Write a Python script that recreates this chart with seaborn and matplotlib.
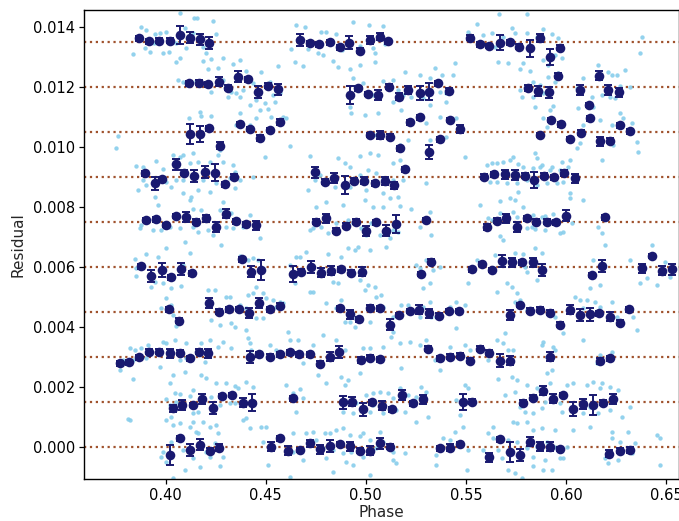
import matplotlib
matplotlib.use("Agg")
import matplotlib.pyplot as plt
import seaborn as sns
import pandas as pd
from matplotlib.ticker import FormatStrFormatter, MultipleLocator

# ---------------------------------------------------------------------------
# Binned residuals, one list per epoch (stacked with a fixed vertical offset).
# phase in orbital phase, residual and error in units of 1e-4
# ---------------------------------------------------------------------------
offset_step = 0.0015

bin_phase = [
    [0.4020, 0.4070, 0.4120, 0.4170, 0.4220, 0.4267, 0.4525, 0.4570, 0.4612, 0.4670, 0.4720, 0.4770, 0.4820,
     0.4870, 0.4920, 0.4970, 0.5023, 0.5073, 0.5120, 0.5370, 0.5423, 0.5470, 0.5617, 0.5670, 0.5720, 0.5770,
     0.5820, 0.5870, 0.5920, 0.5970, 0.6217, 0.6270, 0.6320],
    [0.4035, 0.4083, 0.4137, 0.4183, 0.4237, 0.4283, 0.4333, 0.4387, 0.4432, 0.4637, 0.4887, 0.4933, 0.4987,
     0.5033, 0.5083, 0.5133, 0.5183, 0.5237, 0.5287, 0.5487, 0.5532, 0.5786, 0.5836, 0.5886, 0.5936, 0.5986,
     0.6033, 0.6083, 0.6133, 0.6187, 0.6237],
    [0.3770, 0.3817, 0.3867, 0.3917, 0.3967, 0.4020, 0.4070, 0.4120, 0.4167, 0.4212, 0.4420, 0.4467, 0.4520,
     0.4570, 0.4620, 0.4667, 0.4720, 0.4770, 0.4820, 0.4867, 0.4978, 0.5020, 0.5070, 0.5312, 0.5370, 0.5420,
     0.5470, 0.5520, 0.5570, 0.5617, 0.5670, 0.5720, 0.5920, 0.6170, 0.6220],
    [0.4017, 0.4067, 0.4217, 0.4267, 0.4317, 0.4367, 0.4417, 0.4467, 0.4520, 0.4570, 0.4870, 0.4920, 0.4967,
     0.5020, 0.5073, 0.5120, 0.5167, 0.5220, 0.5267, 0.5317, 0.5367, 0.5417, 0.5467, 0.5720, 0.5770, 0.5820,
     0.5870, 0.5920, 0.5970, 0.6020, 0.6070, 0.6120, 0.6165, 0.6220, 0.6270, 0.6315],
    [0.3875, 0.3928, 0.3982, 0.4028, 0.4078, 0.4132, 0.4383, 0.4428, 0.4478, 0.4637, 0.4678, 0.4728, 0.4778,
     0.4828, 0.4878, 0.4928, 0.4982, 0.5278, 0.5325, 0.5528, 0.5578, 0.5628, 0.5678, 0.5728, 0.5778, 0.5833,
     0.5878, 0.6128, 0.6178, 0.6378, 0.6428, 0.6478, 0.6528],
    [0.3903, 0.3950, 0.4000, 0.4053, 0.4100, 0.4150, 0.4200, 0.4253, 0.4300, 0.4350, 0.4403, 0.4450, 0.4753,
     0.4800, 0.4850, 0.4903, 0.4953, 0.5003, 0.5053, 0.5103, 0.5153, 0.5303, 0.5603, 0.5653, 0.5700, 0.5753,
     0.5803, 0.5850, 0.5903, 0.5950, 0.6000, 0.6195],
    [0.3895, 0.3945, 0.3982, 0.4053, 0.4092, 0.4140, 0.4195, 0.4247, 0.4295, 0.4340, 0.4745, 0.4795, 0.4842,
     0.4896, 0.4942, 0.4991, 0.5046, 0.5096, 0.5142, 0.5195, 0.5592, 0.5642, 0.5695, 0.5745, 0.5795, 0.5840,
     0.5890, 0.5942, 0.5990, 0.6045],
    [0.4120, 0.4170, 0.4219, 0.4270, 0.4370, 0.4419, 0.4470, 0.4520, 0.4570, 0.5020, 0.5073, 0.5120, 0.5170,
     0.5220, 0.5270, 0.5315, 0.5370, 0.5420, 0.5470, 0.5870, 0.5925, 0.5973, 0.6020, 0.6073, 0.6120, 0.6170,
     0.6220, 0.6270, 0.6320],
    [0.4117, 0.4167, 0.4214, 0.4264, 0.4312, 0.4362, 0.4412, 0.4460, 0.4512, 0.4562, 0.4920, 0.4962, 0.5012,
     0.5062, 0.5117, 0.5167, 0.5209, 0.5271, 0.5316, 0.5362, 0.5414, 0.5812, 0.5862, 0.5915, 0.5962, 0.6071,
     0.6117, 0.6167, 0.6212, 0.6265],
    [0.3865, 0.3917, 0.3968, 0.4020, 0.4070, 0.4120, 0.4170, 0.4218, 0.4670, 0.4720, 0.4767, 0.4820, 0.4870,
     0.4917, 0.4970, 0.5023, 0.5070, 0.5110, 0.5520, 0.5570, 0.5617, 0.5670, 0.5720, 0.5767, 0.5820, 0.5870,
     0.5920, 0.5970],
]

bin_resid = [
    [-2.7, 2.9, -1.0, 0.7, -1.3, -0.2, 0.1, 2.9, -1.3, -1.0, 1.2, -0.7, 0.3, 1.0, 0.3, -1.3, -1.3, 1.2, 0.1,
     -0.4, -0.2, 1.0, -3.4, 2.6, -1.6, -2.7, 1.8, 0.3, 0.1, -0.7, -2.3, -1.3, -1.0],
    [-2.1, -1.0, -1.0, 0.9, -1.9, 2.0, 2.3, -0.2, -0.2, 1.2, -0.1, 0.1, -2.4, -0.1, -1.3, -2.4, 2.3, -0.4, 0.9,
     -0.1, 0.1, -0.2, 1.4, 3.8, 1.0, 2.3, -2.4, -0.7, -1.0, -0.2, 1.0],
    [-2.1, -1.8, -0.1, 1.8, 1.8, 1.2, 1.4, -0.4, 1.8, 1.2, 0.1, 0.9, 0.1, 0.9, 1.6, 0.9, 0.9, -2.3, 0.1, 1.8,
     -1.0, -0.2, -0.8, 2.7, -0.4, 0.1, 0.4, -1.3, 2.7, 1.4, -1.3, -1.3, 0.1, -1.3, -0.4],
    [0.9, -2.9, 2.9, 0.1, 0.9, 1.0, -0.4, 2.9, 0.9, 2.1, 1.2, -0.8, -2.4, 1.4, 1.2, -4.3, -1.0, 0.3, 0.7, -0.4,
     -1.3, 0.3, 0.3, -1.0, 2.3, 0.4, 0.7, -0.2, -4.3, 0.7, -1.0, -0.8, -0.4, -1.6, -3.6, 0.9],
    [0.3, -3.0, -1.0, -3.4, -0.8, -2.1, 2.6, -1.6, -1.0, -2.3, -1.6, 0.1, -1.9, -1.2, -0.8, -1.9, -1.6, -2.3,
     1.8, -0.8, 1.0, -1.0, 2.0, 1.6, 1.6, 1.6, -1.0, -2.7, 0.4, -0.4, 3.7, -1.3, -0.8],
    [0.7, 0.9, -1.0, 2.0, 1.6, 0.1, 1.2, -1.6, 2.7, 0.3, -0.8, -1.0, 0.1, 1.2, -2.9, -1.2, 0.1, -3.0, -0.1,
     -2.9, -0.7, 0.7, -1.8, 0.4, 1.2, -1.6, 1.2, 0.1, 0.1, -0.1, 2.1, 1.6],
    [1.2, -2.1, -0.7, 4.2, 1.4, 0.3, 1.8, 1.4, -2.4, 0.1, 1.6, -1.6, -0.4, -2.7, -1.2, -1.2, -2.1, -1.3, -2.7,
     2.6, 0.1, 0.9, 1.0, 0.7, 0.4, -1.0, 0.4, -0.1, 1.2, -0.4],
    [-0.7, -0.7, 1.3, -4.6, 2.7, 1.0, -2.1, 0.7, 3.3, -1.0, -1.0, -1.6, -5.4, 3.2, 4.9, -6.6, -2.4, 4.0, 1.0,
     -1.0, 4.0, 2.6, -2.3, -0.2, 4.6, -3.0, -2.9, 2.3, 0.3],
    [1.2, 1.4, 0.9, 1.8, -0.2, 3.4, 2.6, -1.8, 0.4, -0.7, -2.7, -0.4, -2.3, -2.7, 0.1, -3.2, -1.0, -1.9, -1.6,
     1.2, -1.2, -0.2, -1.3, -1.8, 3.8, -1.0, -6.0, 3.8, -1.0, -1.8],
    [1.2, 0.3, 0.4, 0.4, 2.3, 1.4, 0.9, -0.2, 0.7, -0.4, -0.7, -0.1, -1.8, -0.2, -2.9, 0.7, 1.8, 0.3, 1.4, -0.8,
     -1.3, -0.2, -0.1, -1.6, -2.1, 1.4, -4.9, -1.9],
]

bin_err = [
    [3.3, 0.8, 2.0, 1.8, 0.8, 1.2, 1.5, 0.8, 1.5, 0.8, 1.2, 1.5, 2.0, 0.8, 1.5, 0.8, 1.5, 1.8, 0.8, 0.8, 1.2,
     0.8, 1.5, 0.8, 3.3, 2.0, 1.5, 1.5, 1.5, 0.8, 1.2, 0.8, 1.0],
    [1.2, 1.8, 0.8, 1.6, 2.0, 0.8, 0.8, 1.5, 2.7, 0.8, 2.2, 1.5, 2.2, 0.8, 1.5, 0.8, 1.6, 0.8, 1.5, 2.7, 0.8,
     0.8, 0.8, 1.5, 1.5, 0.8, 2.3, 1.8, 3.3, 0.8, 1.8],
    [0.8, 0.8, 0.8, 0.8, 0.8, 1.6, 0.8, 0.8, 0.8, 1.5, 2.0, 0.8, 0.8, 0.8, 0.8, 0.8, 0.8, 0.8, 1.5, 2.0, 1.0,
     0.8, 0.8, 0.8, 0.8, 0.8, 0.8, 0.8, 0.8, 0.8, 2.2, 1.5, 1.5, 1.0, 0.8],
    [0.8, 0.8, 1.6, 0.8, 0.8, 0.8, 1.6, 1.6, 0.8, 0.8, 0.8, 1.5, 0.8, 0.8, 0.8, 1.8, 0.8, 0.8, 1.5, 1.5, 0.8,
     0.8, 0.8, 1.8, 0.8, 0.8, 0.8, 0.8, 0.8, 1.5, 2.0, 2.2, 0.8, 1.5, 0.8, 0.8],
    [0.8, 2.0, 2.5, 0.8, 2.0, 0.8, 0.8, 1.8, 3.2, 2.8, 0.8, 2.0, 1.5, 1.5, 0.8, 0.8, 1.5, 0.8, 0.8, 0.8, 0.8,
     0.8, 2.0, 1.5, 0.8, 1.5, 2.0, 0.8, 2.0, 1.5, 0.8, 1.5, 1.8],
    [0.8, 0.8, 0.8, 0.8, 1.6, 0.8, 1.2, 1.6, 1.5, 0.8, 0.8, 1.5, 0.8, 1.5, 0.8, 0.8, 0.8, 1.6, 0.8, 1.8, 3.0,
     0.8, 1.0, 0.8, 1.6, 1.6, 0.8, 0.8, 0.8, 0.8, 1.8, 0.8],
    [0.8, 2.2, 0.8, 1.8, 0.8, 2.0, 2.0, 2.8, 0.8, 0.8, 1.8, 0.8, 1.6, 3.0, 0.8, 1.2, 0.8, 1.2, 1.2, 0.8, 0.8,
     0.8, 1.5, 1.8, 0.8, 2.8, 0.8, 0.8, 1.0, 1.5],
    [3.3, 2.7, 0.8, 1.2, 0.8, 0.8, 1.0, 0.8, 1.0, 0.8, 1.2, 0.8, 0.8, 0.8, 0.8, 2.4, 0.8, 0.8, 1.2, 0.8, 0.8,
     0.8, 0.8, 0.8, 0.8, 1.5, 0.8, 0.8, 0.8],
    [0.8, 0.8, 0.8, 1.6, 0.8, 1.8, 0.8, 2.0, 0.8, 1.8, 3.0, 0.8, 0.8, 1.6, 0.8, 1.2, 1.2, 2.4, 2.8, 0.8, 1.0,
     1.0, 1.6, 1.8, 0.8, 1.6, 0.8, 1.6, 1.6, 1.6],
    [0.8, 0.8, 0.8, 0.8, 2.9, 1.8, 1.8, 2.0, 2.0, 0.8, 0.8, 0.8, 0.8, 2.2, 0.8, 1.2, 1.2, 0.8, 0.8, 0.8, 0.8,
     2.4, 0.8, 0.8, 2.9, 1.4, 2.6, 0.8],
]

# ---------------------------------------------------------------------------
# Unbinned residuals (offsets already applied).
# phase in units of 1e-3, residual in units of 1e-4
# ---------------------------------------------------------------------------
light_phase = [
    # upper left
    407.0, 414.0, 415.7, 423.7, 387.8, 390.3, 394.5, 397.0, 400.3, 409.5, 413.7, 425.3, 383.7, 389.5, 392.0,
    398.7, 401.7, 394.0, 405.3, 410.3, 418.7, 420.3, 422.8, 405.3, 407.3, 418.7, 428.7, 421.2, 433.7, 437.0,
    426.2, 440.3, 447.8, 456.2, 406.2, 408.7, 415.3, 422.8, 428.7, 432.8, 435.3, 438.7, 443.7, 452.0, 453.7,
    457.0, 431.2, 437.0, 445.3, 449.5, 454.5, 442.0, 447.0, 451.2, 417.0, 411.7, 417.8, 422.8, 437.0, 445.3,
    452.8, 458.7, 435.3, 442.0,
    # upper middle
    465.3, 469.5, 477.8, 480.3, 485.3, 493.7, 501.7, 508.7, 462.8, 471.2, 476.2, 478.7, 488.3, 497.0, 503.7,
    504.5, 509.5, 464.5, 468.7, 483.7, 486.2, 492.0, 497.3, 504.5, 493.7, 498.7, 508.7, 513.7, 519.5, 527.0,
    534.5, 538.3, 544.5, 543.7, 555.3, 551.2, 532.0, 516.2, 518.7, 522.8, 532.8, 537.0, 540.3, 492.0, 492.8,
    499.5, 506.2, 503.7, 513.7, 517.8, 528.7, 532.0, 540.3, 545.3, 460.3, 530.3, 537.0,
    # upper right
    566.7, 580.7, 637.8, 637.0, 558.7, 562.8, 564.5, 568.7, 572.8, 574.5, 580.3, 585.3, 588.7, 592.8, 596.2,
    566.2, 571.2, 577.0, 578.7, 582.0, 588.3, 591.2, 594.5, 597.8, 591.2, 594.5, 596.2, 583.7, 586.2, 587.0,
    588.7, 577.0, 577.8, 583.7, 584.5, 592.0, 593.7, 608.7, 616.2, 621.2, 622.8, 625.3, 629.5, 632.0, 605.3,
    612.8, 613.7, 617.8, 622.0, 624.5, 627.0, 606.2, 610.3, 588.7, 590.3, 608.7, 617.0, 627.0, 628.7, 632.8,
    622.8,
    # centre left
    376.2, 375.3, 395.3, 385.3, 388.7, 388.7, 386.2, 390.3, 394.5, 396.2, 398.7, 403.7, 407.0, 408.7, 413.7,
    412.0, 416.2, 422.0, 428.7, 426.2, 427.0, 433.7, 434.5, 408.7, 405.3, 402.8, 400.3, 408.7, 412.0, 412.8,
    416.2, 418.7, 422.0, 425.3, 428.7, 432.0, 434.5, 437.0, 443.7, 449.5, 413.7, 417.8, 427.0, 432.8, 442.0,
    387.8, 387.0, 393.7, 397.8, 402.0, 407.0, 413.7, 416.2, 421.2, 423.7, 430.3, 433.7, 438.7, 445.3, 447.0,
    409.5, 427.8, 400.3,
    # centre middle
    462.0, 472.0, 486.2, 489.5, 497.0, 502.0, 506.2, 513.7, 517.0, 521.2, 532.0, 540.3, 549.5, 505.3, 517.0,
    471.2, 474.5, 477.0, 484.5, 492.0, 497.0, 501.2, 505.3, 508.7, 513.7, 518.7, 492.0, 500.3, 508.7, 512.0,
    516.2, 530.3, 480.3, 475.3, 488.7, 499.5, 503.7, 508.7, 517.0, 522.8, 532.0, 472.0, 473.7, 477.8, 481.2,
    485.3, 491.2, 493.7, 497.8, 500.3, 502.8, 507.0, 512.0, 513.7, 516.2, 527.0, 532.8, 557.0, 491.2, 496.2,
    510.3,
    # centre right
    584.5, 585.3, 587.8, 592.8, 597.8, 602.0, 605.3, 607.0, 617.8, 623.7, 635.3, 636.2, 560.3, 562.8, 565.3,
    568.7, 572.0, 573.7, 576.2, 578.7, 583.7, 587.0, 592.0, 597.0, 601.2, 562.0, 565.3, 570.3, 575.3, 580.3,
    585.3, 590.3, 595.3, 598.7, 602.0, 602.0, 608.7, 567.0, 572.0, 574.5, 576.2, 578.7, 561.2, 562.8, 567.0,
    573.7, 571.2, 575.3, 583.7, 587.8, 589.5, 593.7, 602.8, 580.3, 582.8, 584.5, 589.5, 597.0, 598.7, 616.2,
    617.8, 567.0, 568.7, 584.5, 619.5, 642.8,
    # lower-centre left
    384.5, 390.3, 396.2, 412.0, 385.3, 385.3, 392.8, 394.5, 398.7, 402.8, 407.8, 408.7, 413.7, 437.0, 441.2,
    443.7, 446.2, 441.2, 445.3, 443.7, 448.7, 450.3, 453.7, 455.3, 457.0, 421.2, 424.5, 430.3, 432.0, 437.0,
    440.3, 400.3, 402.8, 397.8, 403.7, 405.3, 422.8, 427.0, 432.8, 434.5, 440.3, 445.3, 448.7, 441.2, 442.0,
    382.0, 384.5, 387.8, 391.2, 398.7, 400.3, 404.5, 410.3, 417.8, 422.0, 426.2, 428.7, 432.8, 442.8, 452.0,
    455.3, 378.7, 383.7, 390.3, 397.0, 407.0, 410.3, 419.5,
    # lower-centre middle
    465.3, 467.0, 470.3, 481.2, 487.8, 494.5, 502.0, 462.0, 464.5, 472.0, 473.7, 483.7, 486.2, 497.0, 501.2,
    499.5, 504.5, 525.3, 527.0, 530.3, 533.7, 537.0, 532.0, 551.2, 555.3, 528.7, 458.7, 461.2, 462.0, 480.3,
    487.8, 485.3, 489.5, 492.0, 494.5, 495.3, 505.3, 507.8, 508.7, 513.7, 517.8, 521.2, 527.0, 528.7, 532.0,
    532.8, 535.3, 542.0, 545.3, 545.3, 549.5, 512.8, 502.0, 513.7, 466.2, 473.7, 478.7, 485.3, 489.5, 498.7,
    502.0, 508.7, 517.0, 522.0, 527.0, 530.3, 531.2, 534.5, 542.0, 549.5, 552.0, 517.8, 468.7,
    # lower-centre right
    564.5, 574.5, 578.7, 587.8, 565.3, 570.3, 572.8, 579.5, 580.3, 585.3, 588.7, 613.7, 612.0, 617.0, 632.0,
    637.0, 640.3, 645.3, 649.5, 652.0, 575.3, 577.0, 574.5, 580.3, 592.0, 594.5, 597.0, 604.5, 607.0, 608.7,
    610.3, 614.5, 617.0, 622.8, 625.3, 630.3, 633.7, 635.3, 608.7, 598.7, 569.5, 565.3, 568.7, 588.7, 587.8,
    593.7, 594.5, 571.2, 573.7, 590.3, 617.0, 615.3, 622.8, 561.2,
    # bottom left
    377.0, 383.7, 403.7, 409.5, 417.8, 420.3, 402.0, 404.5, 407.0, 412.0, 413.7, 422.8, 425.3, 430.3, 434.5,
    436.2, 440.3, 443.7, 400.3, 402.0, 405.3, 408.7, 413.7, 416.2, 427.0, 432.0, 434.5, 381.2, 382.0, 400.3,
    402.8, 403.7, 407.0, 412.0, 413.7, 418.7, 422.0, 425.3, 426.2, 438.7, 440.3, 442.0, 447.8, 450.3, 398.7,
    397.8, 400.3, 402.8, 408.7, 413.7, 415.3, 416.2, 420.3, 422.0, 424.5, 428.7, 427.0, 409.5, 417.0, 403.7,
    448.7, 451.2,
    # bottom middle
    476.2, 487.8, 497.0, 480.3, 489.5, 491.2, 460.3, 467.0, 463.7, 465.3, 468.7, 500.3, 503.7, 507.0, 511.2,
    513.7, 517.0, 521.2, 525.3, 527.8, 530.3, 502.0, 503.7, 508.7, 515.3, 519.5, 525.3, 531.2, 537.0, 545.3,
    549.5, 551.2, 547.0, 488.7, 493.7, 495.3, 463.7, 470.3, 473.7, 475.3, 479.5, 482.0, 485.3, 488.7, 492.0,
    497.0, 498.7, 507.0, 502.0, 508.7, 478.7, 483.7, 488.7, 492.8, 498.7, 505.3, 513.7, 538.7, 542.0, 544.5,
    548.7, 551.2, 535.3, 537.0, 463.7, 468.7, 462.0, 480.3, 483.7, 490.3, 493.7, 515.3, 535.3, 550.3, 502.0,
    513.7, 519.5,
    # bottom right
    566.2, 572.8, 575.3, 590.3, 592.8, 580.3, 585.3, 592.0, 600.3, 603.7, 610.3, 613.7, 617.8, 617.0, 622.0,
    626.2, 569.5, 574.5, 577.0, 579.5, 583.7, 587.8, 589.5, 597.0, 597.8, 603.7, 608.7, 612.0, 616.2, 622.0,
    627.8, 632.0, 573.7, 575.3, 580.3, 583.7, 587.8, 594.5, 603.7, 612.0, 622.8, 622.8, 627.0, 631.2, 634.5,
    645.3, 647.0, 563.7, 561.2, 563.7, 558.7, 566.2, 571.2, 567.8, 575.3, 580.3, 585.3, 590.3, 594.5, 600.3,
    597.0, 598.7, 583.7, 589.5, 619.5, 621.2, 626.2, 632.8, 571.2, 577.8, 588.7, 592.8, 574.5, 583.7, 647.0,
]

light_value = [
    # upper left
    144.8, 143.2, 142.9, 142.0, 140.1, 139.0, 137.7, 138.1, 138.4, 139.6, 137.9, 137.7, 131.0, 132.9, 131.6,
    131.4, 131.6, 134.6, 134.6, 132.9, 133.4, 131.2, 129.2, 128.4, 129.8, 128.8, 129.6, 125.9, 127.7, 129.0,
    126.2, 125.4, 125.1, 127.0, 122.3, 121.8, 122.1, 118.4, 122.3, 118.4, 117.9, 119.0, 121.2, 121.8, 117.3,
    117.9, 116.6, 116.8, 115.7, 114.8, 115.1, 114.0, 112.3, 112.6, 111.8, 109.6, 110.3, 110.3, 111.4, 109.6,
    110.1, 110.1, 107.3, 107.3,
    # upper middle
    140.7, 140.1, 138.4, 138.2, 137.7, 141.8, 140.7, 140.3, 132.6, 132.6, 131.4, 130.7, 132.3, 133.8, 133.1,
    131.4, 134.2, 128.4, 127.0, 128.8, 126.6, 125.9, 127.3, 128.4, 122.9, 121.4, 122.1, 122.3, 124.9, 124.0,
    126.2, 124.0, 127.9, 124.0, 141.0, 138.4, 122.9, 119.0, 117.3, 116.6, 118.4, 118.4, 117.9, 113.5, 111.2,
    110.7, 111.2, 117.3, 115.1, 112.3, 116.2, 114.0, 115.1, 109.6, 109.6, 107.9, 110.1,
    # upper right
    144.3, 144.3, 136.8, 131.2, 137.3, 137.9, 133.4, 136.8, 139.6, 137.9, 138.1, 136.8, 139.2, 137.7, 136.2,
    128.4, 127.9, 125.9, 127.9, 125.4, 129.0, 127.3, 130.7, 129.6, 123.4, 121.8, 124.6, 121.8, 118.4, 120.7,
    117.9, 119.0, 116.6, 116.6, 113.5, 112.3, 113.7, 122.9, 127.3, 125.1, 124.0, 124.0, 125.7, 120.1, 119.6,
    116.8, 113.5, 117.3, 116.8, 116.2, 120.3, 112.9, 114.0, 109.6, 106.8, 107.3, 109.0, 111.2, 109.6, 107.9,
    107.3,
    # centre left
    103.7, 99.6, 95.4, 93.7, 93.4, 89.0, 85.7, 87.3, 83.4, 80.7, 92.6, 97.3, 96.8, 97.3, 97.9,
    94.6, 95.1, 95.1, 95.1, 97.3, 99.0, 94.0, 91.8, 89.0, 89.0, 86.8, 88.4, 84.8, 82.3, 83.4,
    85.7, 89.0, 85.1, 87.9, 81.8, 89.6, 86.2, 89.0, 90.1, 96.8, 79.2, 79.0, 79.0, 77.9, 77.3,
    74.0, 72.9, 72.3, 72.3, 73.4, 72.9, 73.4, 71.8, 72.3, 70.7, 73.4, 72.9, 73.4, 73.4, 69.6,
    68.5, 67.3, 66.2,
    # centre middle
    100.3, 97.0, 96.2, 94.6, 97.0, 98.1, 97.3, 94.8, 95.7, 102.3, 102.3, 103.4, 96.8, 104.0, 100.7,
    85.7, 89.0, 90.7, 86.8, 93.4, 90.7, 92.3, 91.2, 89.6, 89.0, 89.0, 86.8, 85.7, 84.6, 82.9,
    83.4, 87.9, 81.8, 80.1, 80.7, 82.3, 80.1, 80.1, 80.3, 79.5, 78.4, 72.3, 72.9, 73.4, 71.2,
    74.6, 75.7, 74.6, 72.9, 70.7, 74.6, 70.7, 69.6, 72.3, 71.8, 73.4, 70.7, 80.7, 66.2, 66.8,
    66.8,
    # centre right
    97.9, 96.2, 94.0, 93.2, 95.1, 95.7, 99.6, 101.2, 95.7, 100.7, 101.8, 98.4, 94.0, 94.6, 94.6,
    95.1, 95.7, 96.6, 94.3, 93.4, 92.9, 93.4, 92.3, 92.3, 93.2, 88.4, 88.4, 87.9, 87.9, 89.0,
    87.3, 87.9, 87.9, 88.4, 84.6, 82.9, 82.3, 82.1, 82.9, 82.3, 85.1, 80.1, 76.2, 75.7, 77.9,
    78.4, 76.8, 76.6, 77.3, 76.8, 77.0, 77.7, 74.6, 72.9, 73.4, 72.6, 72.3, 71.2, 71.8, 73.4,
    71.2, 70.3, 69.0, 66.2, 67.3, 67.3,
    # lower-centre left
    62.6, 64.3, 63.4, 64.6, 59.6, 57.0, 53.4, 55.1, 54.6, 52.9, 53.7, 60.7, 58.4, 63.7, 62.3,
    62.9, 62.3, 50.7, 53.4, 51.2, 51.2, 49.6, 49.0, 46.8, 48.4, 52.3, 52.3, 50.1, 50.1, 47.3,
    46.2, 49.6, 47.3, 46.2, 44.0, 40.3, 42.3, 40.7, 41.2, 40.1, 39.0, 42.9, 42.9, 36.2, 34.6,
    32.9, 32.3, 32.9, 34.0, 35.1, 34.8, 35.7, 34.6, 34.6, 35.7, 33.4, 35.1, 32.9, 32.3, 34.0,
    32.3, 29.0, 29.0, 29.6, 26.8, 29.0, 29.6, 28.4,
    # lower-centre middle
    63.2, 63.2, 65.1, 64.3, 63.2, 65.7, 65.7, 60.7, 54.6, 51.8, 51.8, 55.1, 54.6, 55.7, 54.0,
    52.3, 53.2, 60.7, 59.6, 62.3, 59.0, 60.1, 54.6, 54.6, 62.3, 52.9, 47.9, 38.4, 35.7, 47.9,
    49.0, 46.2, 41.8, 41.8, 40.1, 42.9, 50.1, 50.7, 46.8, 43.4, 47.3, 47.3, 43.4, 46.8, 48.4,
    43.4, 43.4, 46.8, 48.4, 39.6, 47.3, 36.8, 41.8, 38.4, 35.7, 34.0, 37.3, 35.7, 32.3, 32.9,
    32.9, 33.4, 34.6, 35.1, 34.0, 35.7, 32.3, 29.0, 33.4, 34.0, 32.3, 26.2, 27.9,
    # lower-centre right
    64.0, 64.6, 64.3, 64.6, 51.8, 54.6, 53.4, 60.1, 58.4, 55.7, 59.0, 62.3, 52.9, 54.0, 62.3,
    54.6, 56.2, 54.0, 61.8, 56.8, 51.2, 49.0, 48.4, 45.7, 44.0, 43.4, 40.7, 50.1, 49.0, 46.2,
    49.0, 48.4, 46.8, 48.4, 43.4, 45.7, 43.4, 39.0, 35.7, 37.9, 37.9, 35.7, 34.6, 35.1, 34.0,
    33.4, 32.3, 32.3, 32.3, 30.1, 30.7, 27.9, 31.8, 29.0,
    # bottom left
    25.7, 22.6, 24.0, 25.1, 24.0, 22.9, 21.2, 18.1, 17.7, 17.0, 19.0, 16.8, 21.2, 21.2, 20.3,
    19.6, 21.8, 20.1, 15.9, 14.0, 15.1, 13.4, 11.2, 11.8, 14.0, 14.6, 14.6, 9.2, 9.0, 9.0,
    10.1, 7.3, 7.9, 6.8, 8.4, 8.4, 6.8, 7.3, 4.6, 9.0, 9.6, 6.2, 6.8, 6.8, -1.6,
    -3.2, -4.9, 1.8, -1.0, -3.8, 5.1, 4.6, -1.6, -3.4, 1.2, -3.2, -6.5, -7.7, -6.8, -10.4,
    1.8, -6.0,
    # bottom middle
    24.0, 23.4, 24.6, 21.4, 20.7, 22.3, 20.7, 19.2, 17.9, 11.8, 16.2, 17.3, 17.9, 18.4, 17.9,
    16.2, 19.6, 17.3, 16.8, 20.1, 18.4, 11.8, 14.0, 11.2, 12.3, 11.8, 8.4, 10.1, 25.7, 15.7,
    20.7, 19.6, 10.7, 11.8, 11.2, 14.6, 4.6, 4.6, 5.1, 2.3, 4.6, 4.6, 5.7, 6.2, 4.0,
    3.5, 4.6, 5.1, 2.3, 1.8, -0.4, -1.0, -2.1, -1.6, -3.2, -0.4, -1.6, 2.9, 2.3, 5.1,
    6.8, -1.0, -2.7, -0.4, -1.6, -4.3, -9.9, -3.8, -8.2, -4.9, -6.0, -5.4, -6.0, -7.7, -9.3,
    -4.3, -2.1,
    # bottom right
    22.6, 23.4, 22.3, 24.6, 25.7, 20.7, 19.6, 21.2, 20.7, 21.2, 20.7, 21.8, 21.2, 19.6, 20.1,
    19.0, 17.3, 18.4, 13.4, 11.8, 11.2, 12.9, 15.1, 14.6, 11.8, 12.3, 11.2, 13.4, 11.2, 12.3,
    10.1, 13.4, 8.4, 7.9, 8.4, 5.7, 6.2, 5.7, 5.7, 6.8, 5.1, 2.9, 1.8, 5.1, 1.2,
    4.0, 2.9, 6.8, 4.6, 2.9, -1.0, -1.0, 2.3, -3.8, 1.8, -0.4, 0.1, 1.8, 0.1, 0.1,
    -3.8, -3.8, -3.2, -4.3, -3.8, -5.4, -4.3, -2.1, -7.7, -10.4, -7.7, -7.7, -8.8, -6.5, -6.0,
]

# ---------------------------------------------------------------------------
# Tidy tables for seaborn
# ---------------------------------------------------------------------------
rows = []
for k, (ph, rs, er) in enumerate(zip(bin_phase, bin_resid, bin_err)):
    for p, r, e in zip(ph, rs, er):
        rows.append({"epoch": k, "phase": p,
                     "residual": k * offset_step + r * 1e-4, "err": e * 1e-4})
binned = pd.DataFrame(rows)

unbinned = pd.DataFrame({"phase": [p * 1e-3 for p in light_phase],
                         "residual": [v * 1e-4 for v in light_value]})

# ---------------------------------------------------------------------------
# Figure
# ---------------------------------------------------------------------------
sns.set_theme(style="ticks")
plt.rcParams["font.family"] = ["DejaVu Sans"]
plt.rcParams["xtick.labelsize"] = 10.5
plt.rcParams["ytick.labelsize"] = 10.5
plt.rcParams["axes.labelsize"] = 11

fig = plt.figure(figsize=(6.79, 5.21), dpi=100)
ax = fig.add_axes([0.1237, 0.080, 0.8770, 0.9008])

# zero-level reference for every stacked epoch
for k in range(len(bin_phase)):
    ax.axhline(k * offset_step, color="#a0522d", linestyle=":", linewidth=1.6, zorder=1)

sns.scatterplot(data=unbinned, x="phase", y="residual", ax=ax, color="#87ceeb",
                s=10, linewidth=0, alpha=0.9, zorder=2, legend=False)

ax.errorbar(binned["phase"], binned["residual"], yerr=binned["err"], fmt="none",
            ecolor="#191970", elinewidth=1.4, capsize=2.6, capthick=1.4, zorder=3)
sns.scatterplot(data=binned, x="phase", y="residual", ax=ax, color="#191970",
                s=48, linewidth=0, zorder=4, legend=False)

ax.set_xlim(0.3592, 0.6567)
ax.set_ylim(-0.00108, 0.01457)
ax.xaxis.set_major_locator(MultipleLocator(0.05))
ax.yaxis.set_major_locator(MultipleLocator(0.002))
ax.xaxis.set_major_formatter(FormatStrFormatter("%.2f"))
ax.yaxis.set_major_formatter(FormatStrFormatter("%.3f"))
ax.set_xlabel("Phase", labelpad=1)
ax.set_ylabel("Residual", labelpad=5)
for side in ["left", "bottom", "top", "right"]:
    ax.spines[side].set_color("black")
    ax.spines[side].set_linewidth(1.0)
ax.tick_params(direction="out", length=3.5, width=0.9, colors="black", pad=3)

fig.savefig("out.png", dpi=100)
